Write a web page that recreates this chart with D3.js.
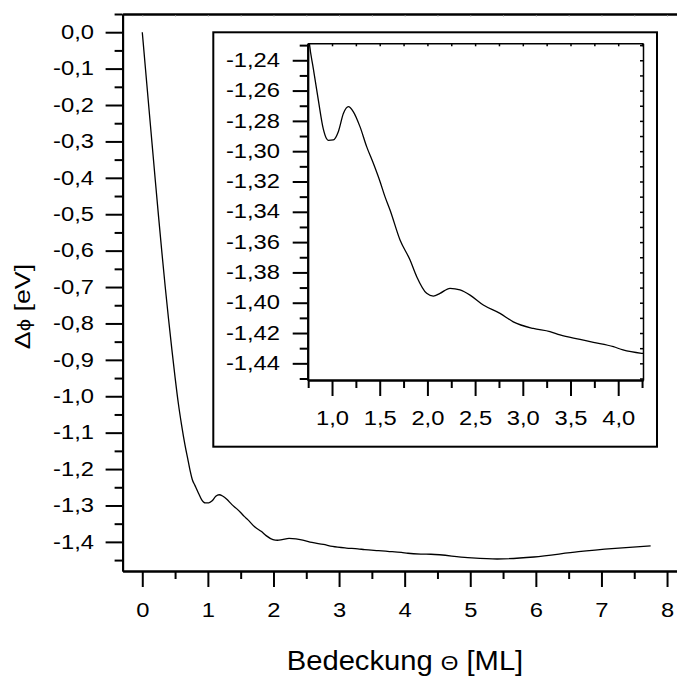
<!DOCTYPE html>
<html>
<head>
<meta charset="utf-8">
<script src="https://cdn.jsdelivr.net/npm/d3@7"></script>
<style>
body { margin: 0; background: #fff; }
text { font-family: "Liberation Sans", Arial, "DejaVu Sans", sans-serif; fill: #000; }
.tick-label { font-size: 19.3px; }
</style>
</head>
<body>
<svg id="chart" width="677" height="676"></svg>
<script>
// coverage in ML and work function change in eV
var thetaML = [0, 0.05, 0.1, 0.15, 0.2, 0.25, 0.3, 0.35, 0.4, 0.45, 0.5, 0.55, 0.6, 0.65, 0.7, 0.73,
  0.762, 0.804, 0.857, 0.909, 0.94, 0.961, 1.014, 1.066, 1.12, 1.171, 1.224, 1.293, 1.363, 1.433, 1.503,
  1.555, 1.608, 1.713, 1.818, 1.888, 1.992, 2.062, 2.132, 2.237, 2.342, 2.447, 2.586, 2.761, 2.9,
  3.11, 3.285, 3.39, 3.6, 3.74, 3.95, 4.05, 4.246, 4.4, 4.96, 5.41, 5.97, 6.65, 7.21, 7.75];
var deltaPhi = [0, -0.103, -0.206, -0.308, -0.41, -0.51, -0.607, -0.7, -0.787, -0.87, -0.948, -1.02, -1.08, -1.133, -1.178, -1.205,
  -1.2285, -1.2455, -1.2665, -1.2855, -1.2915, -1.2928, -1.2926, -1.2871, -1.275, -1.2706, -1.274, -1.2838, -1.297, -1.308, -1.32,
  -1.33, -1.3388, -1.3586, -1.3718, -1.3828, -1.3938, -1.3956, -1.3938, -1.3905, -1.3916, -1.395, -1.4015, -1.407, -1.4126,
  -1.417, -1.4191, -1.4213, -1.4242, -1.4261, -1.429, -1.4312, -1.4334, -1.434, -1.443, -1.447, -1.4415, -1.427, -1.418, -1.411];

var mainXTicks = [0, 1, 2, 3, 4, 5, 6, 7, 8];
var mainYTicks = [0.0, -0.1, -0.2, -0.3, -0.4, -0.5, -0.6, -0.7, -0.8, -0.9, -1.0, -1.1, -1.2, -1.3, -1.4];
var insetXTicks = [1.0, 1.5, 2.0, 2.5, 3.0, 3.5, 4.0];
var insetYTicks = [-1.24, -1.26, -1.28, -1.30, -1.32, -1.34, -1.36, -1.38, -1.40, -1.42, -1.44];

var de = d3.formatLocale({decimal: ",", thousands: ".", grouping: [3], currency: ["", ""], minus: "-"});
var f0 = de.format("d"), f1 = de.format(".1f"), f2 = de.format(".2f");

var stretch = 1.23; // the tick labels in the original are drawn wide
var svg = d3.select("#chart");
var points = thetaML.map((t, i) => ({t: t, v: deltaPhi[i]}));

function clean(g, w) {
  g.attr("font-size", null).attr("font-family", null);
  g.select(".domain").attr("stroke-width", w);
  g.selectAll(".tick line").attr("stroke-width", w);
}

// ---- main plot
var x = d3.scaleLinear().domain([-0.3, 8.6]).range([122.6, 706.4]);
var y = d3.scaleLinear().domain([-1.48, 0.05]).range([571, 14]);

svg.append("g")
  .attr("transform", "translate(0,14)")
  .call(d3.axisTop(x).tickValues(d3.range(0, 8.6, 0.5)).tickSize(-3).tickSizeOuter(0).tickFormat(""))
  .call(g => {
    clean(g, 2.5);
    g.selectAll(".tick line").attr("y1", 1.5).attr("stroke", "#ccc").attr("stroke-width", 1);
  });

svg.append("g")
  .attr("transform", "translate(122.6,0)")
  .call(d3.axisLeft(y).tickValues(d3.range(0.05, -1.5, -0.1)).tickSize(8).tickSizeOuter(0).tickFormat(""))
  .call(g => clean(g, 2));

svg.append("g")
  .attr("transform", "translate(122.6,0)")
  .call(d3.axisLeft(y).tickValues(mainYTicks).tickSize(17).tickSizeOuter(0).tickFormat(f1))
  .call(g => {
    clean(g, 2);
    g.selectAll(".tick text").attr("class", "tick-label")
      .attr("x", -28.6 / stretch).attr("transform", "scale(" + stretch + ",1)");
  });

svg.append("g")
  .attr("transform", "translate(0,571)")
  .call(d3.axisBottom(x).tickValues(d3.range(0.5, 8.6, 1)).tickSize(8).tickSizeOuter(0).tickFormat(""))
  .call(g => clean(g, 2));

svg.append("g")
  .attr("transform", "translate(0,571)")
  .call(d3.axisBottom(x).tickValues(mainXTicks).tickSize(16).tickSizeOuter(0).tickPadding(16).tickFormat(f0))
  .call(g => {
    clean(g, 2);
    g.selectAll(".tick text").attr("class", "tick-label").attr("transform", "scale(" + stretch + ",1)");
  });

var line = d3.line().x(d => x(d.t)).y(d => y(d.v)).curve(d3.curveMonotoneX);
svg.append("path")
  .datum(points)
  .attr("fill", "none")
  .attr("stroke", "#000")
  .attr("stroke-width", 1.3)
  .attr("d", line);

svg.append("text")
  .attr("transform", "translate(405,670) scale(1.08,1)")
  .attr("text-anchor", "middle")
  .style("font-size", "27px")
  .html('Bedeckung <tspan style="font-size:21px">Θ</tspan> [ML]');

svg.append("text")
  .attr("transform", "translate(30,306.5) rotate(-90) scale(1.22,1)")
  .attr("text-anchor", "middle")
  .style("font-size", "22px")
  .html('Δ<tspan style="font-size:18px">ϕ</tspan> [eV]');

// ---- inset
svg.append("rect")
  .attr("x", 213.3).attr("y", 32.3)
  .attr("width", 443.7).attr("height", 414.4)
  .attr("fill", "#fff").attr("stroke", "#000").attr("stroke-width", 2);

var ix = d3.scaleLinear().domain([0.745, 4.26]).range([307.7, 643]);
var iy = d3.scaleLinear().domain([-1.451, -1.2288]).range([380, 43.3]);

svg.append("defs").append("clipPath").attr("id", "insetClip")
  .append("rect").attr("x", 307.7).attr("y", 43.3).attr("width", 643 - 307.7).attr("height", 380 - 43.3);

svg.append("g")
  .attr("transform", "translate(0,43.3)")
  .call(d3.axisBottom(ix).tickValues(d3.range(0.75, 4.3, 0.25)).tickSize(3).tickSizeOuter(0).tickFormat(""))
  .call(g => clean(g, 1.5));

svg.append("g")
  .attr("transform", "translate(643,0)")
  .call(d3.axisLeft(iy).tickValues(d3.range(-1.23, -1.455, -0.01)).tickSize(3).tickSizeOuter(0).tickFormat(""))
  .call(g => clean(g, 1.5));

svg.append("g")
  .attr("transform", "translate(307.7,0)")
  .call(d3.axisLeft(iy).tickValues(d3.range(-1.23, -1.455, -0.02)).tickSize(8).tickSizeOuter(0).tickFormat(""))
  .call(g => clean(g, 2));

svg.append("g")
  .attr("transform", "translate(307.7,0)")
  .call(d3.axisLeft(iy).tickValues(insetYTicks).tickSize(15).tickSizeOuter(0).tickFormat(f2))
  .call(g => {
    clean(g, 2);
    g.selectAll(".tick text").attr("class", "tick-label")
      .attr("x", -27.7 / stretch).attr("transform", "scale(" + stretch + ",1)");
  });

svg.append("g")
  .attr("transform", "translate(0,380)")
  .call(d3.axisBottom(ix).tickValues(d3.range(0.75, 4.3, 0.5)).tickSize(8).tickSizeOuter(0).tickFormat(""))
  .call(g => clean(g, 2));

svg.append("g")
  .attr("transform", "translate(0,380)")
  .call(d3.axisBottom(ix).tickValues(insetXTicks).tickSize(16).tickSizeOuter(0).tickPadding(15.7).tickFormat(f1))
  .call(g => {
    clean(g, 2);
    g.selectAll(".tick text").attr("class", "tick-label").attr("transform", "scale(" + stretch + ",1)");
  });

var insetLine = d3.line().x(d => ix(d.t)).y(d => iy(d.v)).curve(d3.curveMonotoneX);
svg.append("path")
  .datum(points)
  .attr("clip-path", "url(#insetClip)")
  .attr("fill", "none")
  .attr("stroke", "#000")
  .attr("stroke-width", 1.3)
  .attr("d", insetLine);
</script>
</body>
</html>
